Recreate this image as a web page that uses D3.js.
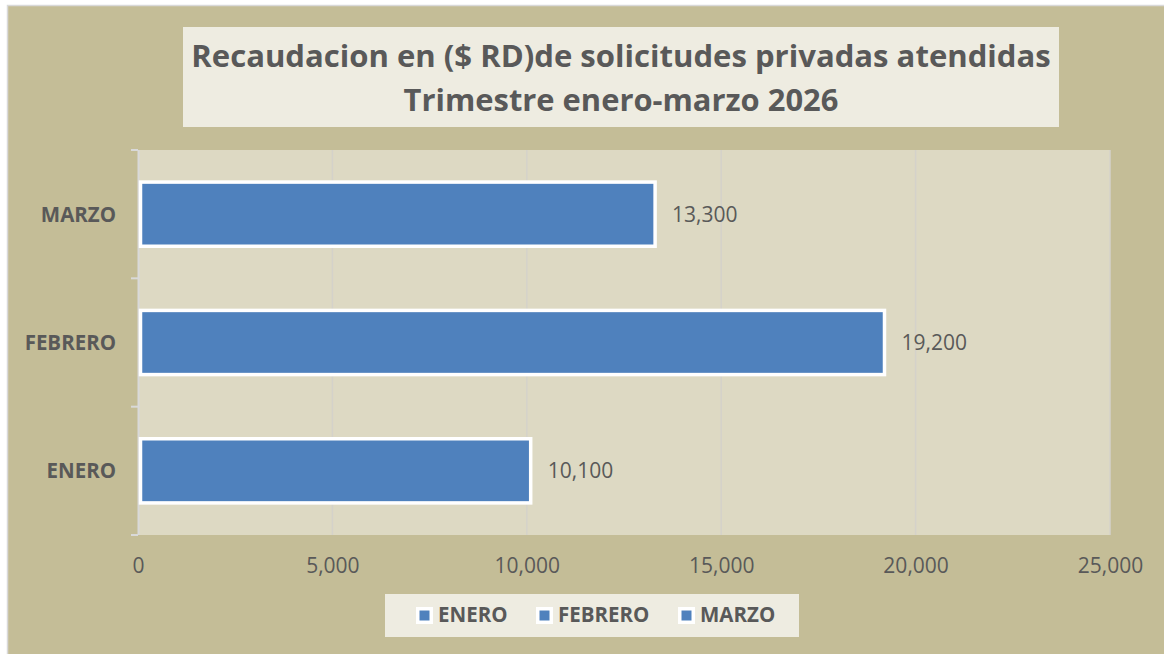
<!DOCTYPE html>
<html>
<head>
<meta charset="utf-8">
<script src="https://cdn.jsdelivr.net/npm/d3@7/dist/d3.min.js"></script>
<style>
  html, body { margin: 0; padding: 0; background: #ffffff; }
  svg { display: block; }
  text { font-family: "Open Sans", sans-serif; fill: #595959; }
</style>
</head>
<body>
<svg id="chart" width="1164" height="654"></svg>
<script>
const categories = ["ENERO", "FEBRERO", "MARZO"];
const values = [10100, 19200, 13300];
const valueLabels = ["10,100", "19,200", "13,300"];
const xTicks = [0, 5000, 10000, 15000, 20000, 25000];
const titleLines = ["Recaudacion en ($ RD)de solicitudes privadas atendidas", "Trimestre enero-marzo 2026"];
const legendLabels = ["ENERO", "FEBRERO", "MARZO"];

const svg = d3.select("#chart");
const W = 1164, H = 654;

// chart area with outer border
svg.append("rect").attr("x", 7.5).attr("y", 5.5).attr("width", W).attr("height", H)
  .attr("fill", "#C4BD97").attr("stroke", "#D9D9D9").attr("stroke-width", 1.5);

// title box
svg.append("rect").attr("x", 183).attr("y", 27).attr("width", 876).attr("height", 100).attr("fill", "#EEECE1");
const titleCx = 621;
const titleTargets = [860, 435];
const titleBaselines = [67, 111];
titleLines.forEach((t, i) => {
  const el = svg.append("text").attr("x", titleCx).attr("y", titleBaselines[i])
    .attr("text-anchor", "middle").attr("font-weight", "bold").attr("font-size", 30).text(t);
  const len = el.node().getComputedTextLength();
  el.attr("font-size", 30 * titleTargets[i] / len);
});

// plot area
const plot = { left: 138, right: 1110, top: 150, bottom: 535 };
svg.append("rect").attr("x", plot.left).attr("y", plot.top)
  .attr("width", plot.right - plot.left).attr("height", plot.bottom - plot.top).attr("fill", "#DDD9C3");

const x = d3.scaleLinear().domain([0, 25000]).range([plot.left, plot.right]);
const y = d3.scaleBand().domain(categories.slice().reverse()).range([plot.top, plot.bottom]).paddingInner(0.5).paddingOuter(0.25);
const yBand = d3.scaleBand().domain(categories.slice().reverse()).range([plot.top, plot.bottom]);

// gridlines
svg.append("g").selectAll("line").data(xTicks.slice(1)).join("line")
  .attr("x1", d => x(d)).attr("x2", d => x(d)).attr("y1", plot.top).attr("y2", plot.bottom)
  .attr("stroke", "#D4D2CA").attr("stroke-width", 1.5);

// x axis labels
const xAxis = d3.axisBottom(x).tickValues(xTicks).tickFormat(d3.format(",")).tickSize(0).tickPadding(0);
const gx = svg.append("g").attr("transform", `translate(0,${plot.bottom})`).call(xAxis);
gx.select(".domain").remove();
gx.selectAll("text").attr("font-size", 21).attr("fill", "#595959").attr("dy", null).attr("y", 38)
  .style("font-family", "'Open Sans', sans-serif");

// y axis
const yAxis = d3.axisLeft(yBand).tickSize(0).tickPadding(0);
const gy = svg.append("g").attr("transform", `translate(${plot.left},0)`).call(yAxis);
gy.select(".domain").attr("stroke", "#D9D9D9").attr("stroke-width", 2)
  .attr("d", `M0.5,${plot.top}V${plot.bottom}`);
gy.selectAll("text").attr("font-size", 20.5).attr("font-weight", "bold").attr("fill", "#595959")
  .attr("x", -22).attr("dy", "0.36em").style("font-family", "'Open Sans', sans-serif");
// category boundary tick marks
const bounds = [plot.top].concat(categories.map(c => yBand(c) + yBand.bandwidth()));
gy.append("g").selectAll("line").data(bounds).join("line")
  .attr("x1", -7).attr("x2", 0).attr("y1", d => d).attr("y2", d => d)
  .attr("stroke", "#D9D9D9").attr("stroke-width", 2);

// bars
const data = categories.map((c, i) => ({ c, v: values[i], label: valueLabels[i] }));
svg.append("g").selectAll("rect").data(data).join("rect")
  .attr("x", x(0) + 2.5).attr("y", d => y(d.c))
  .attr("width", d => x(d.v) - x(0) - 2.5).attr("height", y.bandwidth())
  .attr("fill", "#4F81BD").attr("stroke", "#ffffff").attr("stroke-width", 3.5);

// value labels
svg.append("g").selectAll("text").data(data).join("text")
  .attr("x", d => x(d.v) + 17).attr("y", d => y(d.c) + y.bandwidth() / 2)
  .attr("dy", "0.36em").attr("font-size", 21).text(d => d.label);

// legend
svg.append("rect").attr("x", 385).attr("y", 594).attr("width", 414).attr("height", 43).attr("fill", "#EEECE1");
const legendX = [417.75, 537.75, 679.75];
const lg = svg.append("g").selectAll("g").data(legendLabels).join("g")
  .attr("transform", (d, i) => `translate(${legendX[i]},${608.75})`);
lg.append("rect").attr("width", 13.5).attr("height", 13.5).attr("fill", "#4F81BD")
  .attr("stroke", "#ffffff").attr("stroke-width", 3.5);
lg.append("text").attr("x", 20.25).attr("y", 13.5).attr("font-size", 20.5).attr("font-weight", "bold").text(d => d);
</script>
</body>
</html>
